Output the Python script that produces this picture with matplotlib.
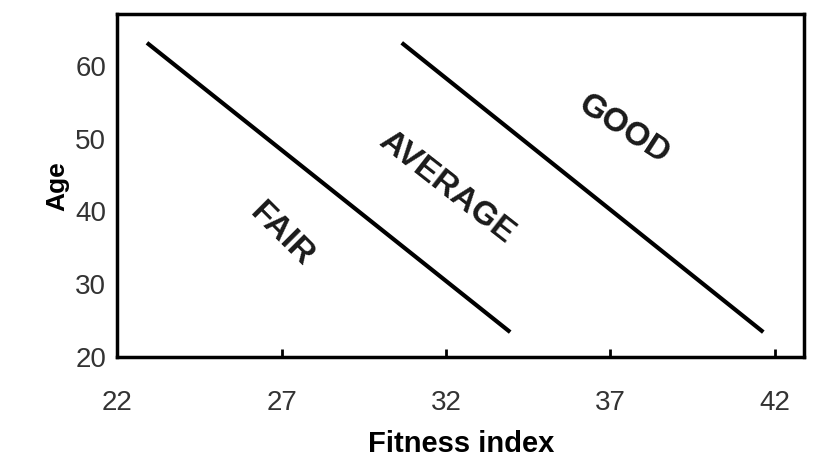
import matplotlib.pyplot as plt

plt.rcParams['font.family'] = ['Liberation Sans', 'DejaVu Sans']

x_ticks = [22, 27, 32, 37, 42]
y_ticks = [20, 30, 40, 50, 60]
fair_line_x = [22.95, 33.9]
fair_line_y = [63.0, 23.6]
good_line_x = [30.7, 41.6]
good_line_y = [63.0, 23.6]
zones = ["FAIR", "AVERAGE", "GOOD"]
zone_x = [27.0, 32.0, 37.4]
zone_y = [36.8, 43.3, 51.3]
zone_rot = [-45, -38, -33]

fig, ax = plt.subplots(figsize=(8.15, 4.76), dpi=100)
fig.subplots_adjust(left=0.144, right=0.987, top=0.97, bottom=0.25)

ax.plot(fair_line_x, fair_line_y, color='black', lw=3)
ax.plot(good_line_x, good_line_y, color='black', lw=3)
for t, x, y, r in zip(zones, zone_x, zone_y, zone_rot):
    ax.text(x, y, t, rotation=r, fontsize=24, fontweight='bold',
            ha='center', va='center', color='#1a1a1a', rotation_mode='anchor')

ax.set_xlim(22, 42.9)
ax.set_ylim(20, 67.1)
ax.set_xticks(x_ticks)
ax.set_yticks(y_ticks)
ax.tick_params(axis='x', direction='in', length=6, width=2, pad=24, labelsize=20, labelcolor='#333333')
ax.tick_params(axis='y', direction='out', length=0, pad=8, labelsize=20, labelcolor='#333333')
for s in ax.spines.values():
    s.set_linewidth(2.5)

ax.set_xlabel("Fitness index", fontsize=21, fontweight='bold', labelpad=10)
ax.set_ylabel("Age", fontsize=19, fontweight='bold', labelpad=4)

fig.savefig("out.png")
